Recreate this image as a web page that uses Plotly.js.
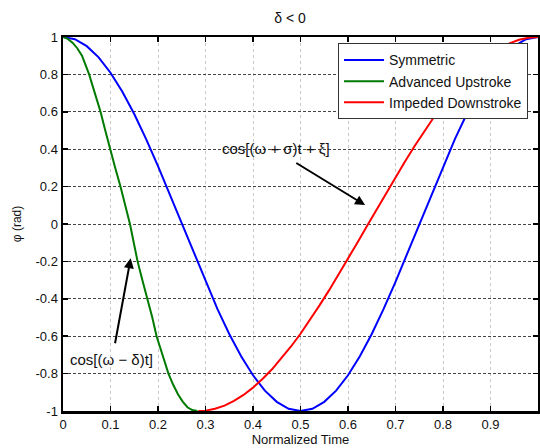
<!DOCTYPE html>
<html>
<head>
<meta charset="utf-8">
<script src="https://cdn.plot.ly/plotly-3.0.1.min.js"></script>
<style>html,body{margin:0;padding:0;background:#fff;}#chart{width:540px;height:448px;}</style>
</head>
<body>
<div id="chart"></div>
<script>
// Symmetric (blue)
const tSym = [0,0.025,0.05,0.075,0.1,0.125,0.15,0.175,0.2,0.225,0.25,0.275,0.3,0.325,0.35,0.375,0.4,0.425,0.45,0.475,0.5,0.525,0.55,0.575,0.6,0.625,0.65,0.675,0.7,0.725,0.75,0.775,0.8,0.825,0.85,0.875,0.9,0.925,0.95,0.975,1];
const phiSym = [1,0.988,0.951,0.891,0.809,0.707,0.588,0.454,0.309,0.156,0,-0.156,-0.309,-0.454,-0.588,-0.707,-0.809,-0.891,-0.951,-0.988,-1,-0.988,-0.951,-0.891,-0.809,-0.707,-0.588,-0.454,-0.309,-0.156,0,0.156,0.309,0.454,0.588,0.707,0.809,0.891,0.951,0.988,1];
// Advanced Upstroke (green)
const tAdv = [0,0.01,0.02,0.03,0.04,0.048,0.055,0.067,0.079,0.089,0.099,0.11,0.121,0.131,0.141,0.149,0.157,0.167,0.178,0.188,0.197,0.209,0.222,0.232,0.242,0.252,0.262,0.272,0.283];
const phiAdv = [1,0.99,0.97,0.94,0.9,0.85,0.8,0.7,0.6,0.5,0.4,0.3,0.2,0.1,0,-0.1,-0.2,-0.3,-0.4,-0.5,-0.6,-0.7,-0.8,-0.86,-0.91,-0.95,-0.98,-0.995,-1];
// Impeded Downstroke (red)
const tImp = [0.285,0.3,0.32,0.34,0.36,0.38,0.4,0.42,0.44,0.46,0.48,0.5,0.52,0.54,0.56,0.58,0.6,0.62,0.64,0.66,0.68,0.7,0.72,0.74,0.76,0.78,0.8,0.82,0.84,0.86,0.88,0.9,0.92,0.94,0.96,0.98,1];
const phiImp = [-1,-0.998,-0.988,-0.971,-0.946,-0.914,-0.875,-0.829,-0.777,-0.719,-0.655,-0.587,-0.513,-0.435,-0.355,-0.271,-0.186,-0.099,-0.011,0.077,0.164,0.25,0.334,0.416,0.494,0.568,0.637,0.702,0.762,0.816,0.864,0.905,0.939,0.966,0.985,0.996,1];

const seriesNames = ['Symmetric','Advanced Upstroke','Impeded Downstroke'];
const xTickVals = [0,0.1,0.2,0.3,0.4,0.5,0.6,0.7,0.8,0.9,1];
const xTickText = ['0','0.1','0.2','0.3','0.4','0.5','0.6','0.7','0.8','0.9','1'];
const yTickVals = [-1,-0.8,-0.6,-0.4,-0.2,0,0.2,0.4,0.6,0.8,1];
const yTickText = ['-1','-0.8','-0.6','-0.4','-0.2','0','0.2','0.4','0.6','0.8','1'];

const F = 'Liberation Sans, Arial, sans-serif';

const traces = [
  {x:tSym, y:phiSym, mode:'lines', name:seriesNames[0], line:{color:'#0000ff', width:2}},
  {x:tAdv, y:phiAdv, mode:'lines', name:seriesNames[1], line:{color:'#007a00', width:2}},
  {x:tImp, y:phiImp, mode:'lines', name:seriesNames[2], line:{color:'#ff0000', width:2}}
];

const layout = {
  width:540, height:448,
  margin:{l:63, r:2, t:37, b:37},
  paper_bgcolor:'#fff', plot_bgcolor:'#fff',
  showlegend:true,
  font:{family:F, size:13, color:'#111'},
  title:{text:'δ < 0', x:290/540, xanchor:'center', y:1-18/448, yanchor:'middle', font:{family:F, size:14, color:'#111'}},
  xaxis:{range:[0,1], tickvals:xTickVals, ticktext:xTickText, ticks:'inside', ticklen:5, tickwidth:1.5, tickcolor:'#000',
    showline:true, linecolor:'#000', linewidth:2.5, mirror:'ticks', showgrid:true, gridcolor:'#c8c8c8', griddash:'3px,3px', gridwidth:1,
    zeroline:false, tickfont:{family:F, size:13, color:'#111'},
    title:{text:'Normalized Time', font:{family:F, size:13, color:'#111'}, standoff:3}},
  yaxis:{range:[-1,1], tickvals:yTickVals, ticktext:yTickText, ticks:'inside', ticklen:5, tickwidth:1.5, tickcolor:'#000',
    showline:true, linecolor:'#000', linewidth:2.5, mirror:'ticks', showgrid:true, gridcolor:'#444', griddash:'3px,2px', gridwidth:1,
    zeroline:false, tickfont:{family:F, size:13, color:'#111'},
    title:{text:'φ (rad)', font:{family:F, size:12, color:'#111'}, standoff:12}},
  legend:{x:0.979, xanchor:'right', y:0.983, yanchor:'top', bgcolor:'#fff', bordercolor:'#333', borderwidth:1,
    font:{family:F, size:14, color:'#111'}, tracegroupgap:0, itemwidth:40},
  annotations:[
    {x:0.449, y:0.406, xref:'x', yref:'y', text:'cos[(ω + σ)t + ξ]', showarrow:false, font:{family:F, size:15, color:'#111'}},
    {x:0.636, y:0.101, xref:'x', yref:'y', ax:0.488, ay:0.331, axref:'x', ayref:'y', text:'', showarrow:true, arrowhead:2, arrowsize:1, arrowwidth:2, arrowcolor:'#000'},
    {x:0.1025, y:-0.726, xref:'x', yref:'y', text:'cos[(ω − δ)t]', showarrow:false, font:{family:F, size:15, color:'#111'}},
    {x:0.1425, y:-0.183, xref:'x', yref:'y', ax:0.109, ay:-0.646, axref:'x', ayref:'y', text:'', showarrow:true, arrowhead:2, arrowsize:1, arrowwidth:2, arrowcolor:'#000'}
  ]
};

Plotly.newPlot('chart', traces, layout, {displayModeBar:false, staticPlot:true});
</script>
</body>
</html>
